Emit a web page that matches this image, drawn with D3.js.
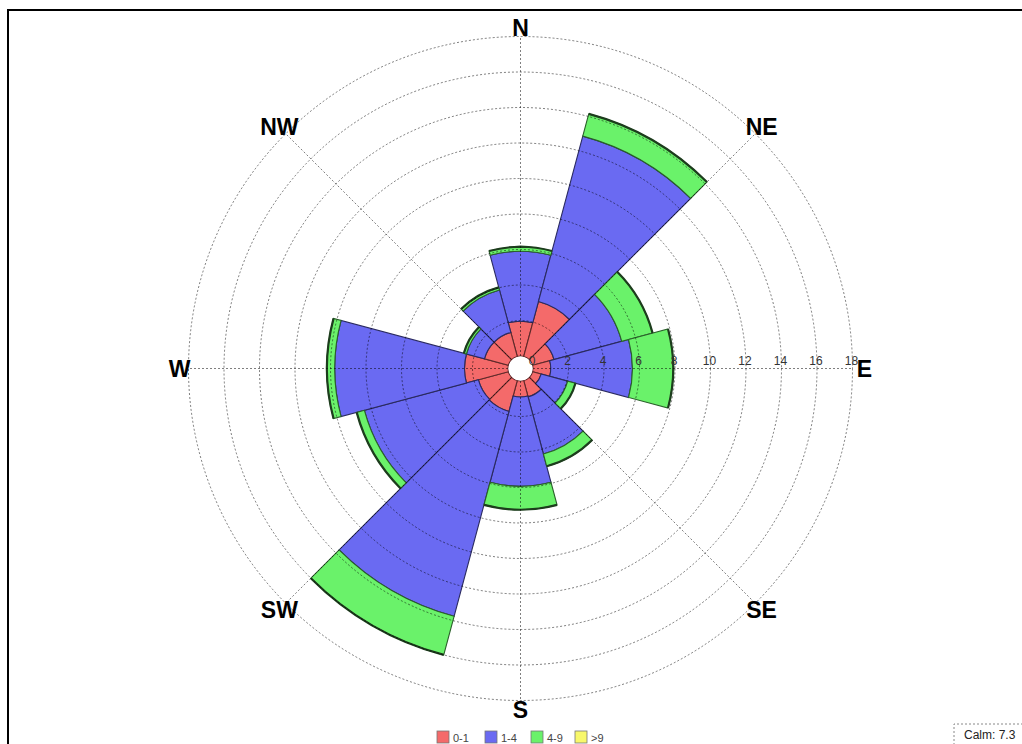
<!DOCTYPE html>
<html>
<head>
<meta charset="utf-8">
<script src="https://cdn.jsdelivr.net/npm/d3@7"></script>
<style>
  body { margin: 0; background: #fff; }
  svg { display: block; font-family: "Liberation Sans", Arial, sans-serif; }
</style>
</head>
<body>
<div id="container"></div>
<script>
/* CONSTANTS AND GLOBALS */
const width = 1022,
  height = 744,
  cx = 520.5,
  cy = 368.5;

// sector bearings (degrees, each sector 30 wide)
const bearings = [0, 30, 60, 90, 120, 150, 180, 210, 240, 270, 300, 330];

// frequency (%) per speed class, one value per bearing
const speed01 = [1.96, 3.2, 1.25, 1.0, 0.5, 0.95, 0.9, 1.8, 1.75, 2.45, 1.4, 1.4];
const speed14 = [3.94, 9.65, 3.95, 4.6, 1.55, 3.33, 5.03, 11.95, 6.65, 7.31, 1.05, 2.47];
const speed49 = [0.25, 1.3, 1.8, 2.3, 0.45, 0.72, 1.32, 2.25, 0.45, 0.44, 0.15, 0.16];
const speed9p = [0, 0, 0, 0, 0, 0, 0, 0, 0, 0, 0, 0];

const classes = ["0-1", "1-4", "4-9", ">9"];
const classColors = ["#f46a6a", "#6a6af2", "#6af26a", "#f8f86a"];

const ringTicks = [0, 2, 4, 6, 8, 10, 12, 14, 16, 18];
const compass = ["N", "NE", "E", "SE", "S", "SW", "W", "NW"];
const calm = 7.3;

const svg = d3.select("#container")
  .append("svg")
  .attr("width", width)
  .attr("height", height);

// frame
svg.append("path")
  .attr("d", `M8,${height + 5} L8,10 L${width + 5},10`)
  .attr("fill", "none")
  .attr("stroke", "#000")
  .attr("stroke-width", 2);

const g = svg.append("g").attr("transform", `translate(${cx},${cy})`);

// SCALE
const rScale = d3.scaleLinear().domain([0, 18]).range([12.5, 332]);

// STACK DATA
const rows = bearings.map((b, i) => ({
  bearing: b,
  "0-1": speed01[i],
  "1-4": speed14[i],
  "4-9": speed49[i],
  ">9": speed9p[i]
}));
const stacked = d3.stack().keys(classes)(rows);

const arcGen = d3.arc()
  .startAngle(d => (d.data.bearing - 15) * Math.PI / 180)
  .endAngle(d => (d.data.bearing + 15) * Math.PI / 180)
  .innerRadius(d => rScale(d[0]))
  .outerRadius(d => rScale(d[1]));

// sectors
stacked.forEach((layer, k) => {
  g.append("g")
    .selectAll("path")
    .data(layer.filter(d => d[1] > d[0]))
    .join("path")
    .attr("d", arcGen)
    .attr("fill", classColors[k])
    .attr("stroke", d3.color(classColors[k]).darker(2.6))
    .attr("stroke-width", 1.1);
});

// darker outer edge of each petal
const totals = rows.map(r => r["0-1"] + r["1-4"] + r["4-9"] + r[">9"]);
g.append("g")
  .selectAll("path")
  .data(rows)
  .join("path")
  .attr("d", (d, i) => d3.arc()({
    innerRadius: rScale(totals[i]),
    outerRadius: rScale(totals[i]),
    startAngle: (d.bearing - 15) * Math.PI / 180,
    endAngle: (d.bearing + 15) * Math.PI / 180
  }))
  .attr("fill", "none")
  .attr("stroke", "#1d3d1d")
  .attr("stroke-width", 2.2);

// grid on top of sectors
const grid = g.append("g");
grid.selectAll("circle")
  .data(ringTicks.slice(1))
  .join("circle")
  .attr("r", d => rScale(d))
  .attr("fill", "none")
  .attr("stroke", "#000")
  .attr("stroke-opacity", 0.5)
  .attr("stroke-dasharray", "2,2");

grid.selectAll("line")
  .data(compass)
  .join("line")
  .attr("x1", (d, i) => rScale(0) * Math.sin(i * Math.PI / 4))
  .attr("y1", (d, i) => -rScale(0) * Math.cos(i * Math.PI / 4))
  .attr("x2", (d, i) => rScale(18) * Math.sin(i * Math.PI / 4))
  .attr("y2", (d, i) => -rScale(18) * Math.cos(i * Math.PI / 4))
  .attr("stroke", "#000")
  .attr("stroke-opacity", 0.5)
  .attr("stroke-dasharray", "2,2");

// center hole
g.append("circle").attr("r", rScale(0) - 0.5).attr("fill", "#fff");

// ring labels along E axis
g.append("g")
  .selectAll("text")
  .data(ringTicks)
  .join("text")
  .attr("x", d => rScale(d) - 1)
  .attr("y", -4)
  .attr("text-anchor", "middle")
  .attr("font-size", 12)
  .attr("fill", "#333")
  .text(d => d);

// compass labels
g.append("g")
  .selectAll("text")
  .data(compass)
  .join("text")
  .attr("x", (d, i) => (d === "E" ? 344 : 341) * Math.sin(i * Math.PI / 4))
  .attr("y", (d, i) => -341 * Math.cos(i * Math.PI / 4))
  .attr("text-anchor", "middle")
  .attr("dominant-baseline", "central")
  .attr("font-size", 23)
  .attr("font-weight", "bold")
  .attr("fill", "#000")
  .text(d => d);

// LEGEND
const legendX = [437, 485, 531, 575];
const legend = svg.append("g").attr("transform", "translate(0,731)");
const items = legend.selectAll("g")
  .data(classes)
  .join("g")
  .attr("transform", (d, i) => `translate(${legendX[i]},0)`);
items.append("rect")
  .attr("width", 12)
  .attr("height", 12)
  .attr("fill", (d, i) => classColors[i])
  .attr("stroke", "#777")
  .attr("stroke-width", 0.8);
items.append("text")
  .attr("x", 16)
  .attr("y", 10.5)
  .attr("font-size", 11)
  .attr("fill", "#444")
  .text(d => d);

// calm box
svg.append("path")
  .attr("d", `M954,${height + 5} L954,724 L${width + 5},724`)
  .attr("fill", "none")
  .attr("stroke", "#888")
  .attr("stroke-dasharray", "2,2");
svg.append("text")
  .attr("x", 964)
  .attr("y", 739)
  .attr("font-size", 12)
  .attr("fill", "#222")
  .text(`Calm: ${calm}`);
</script>
</body>
</html>
